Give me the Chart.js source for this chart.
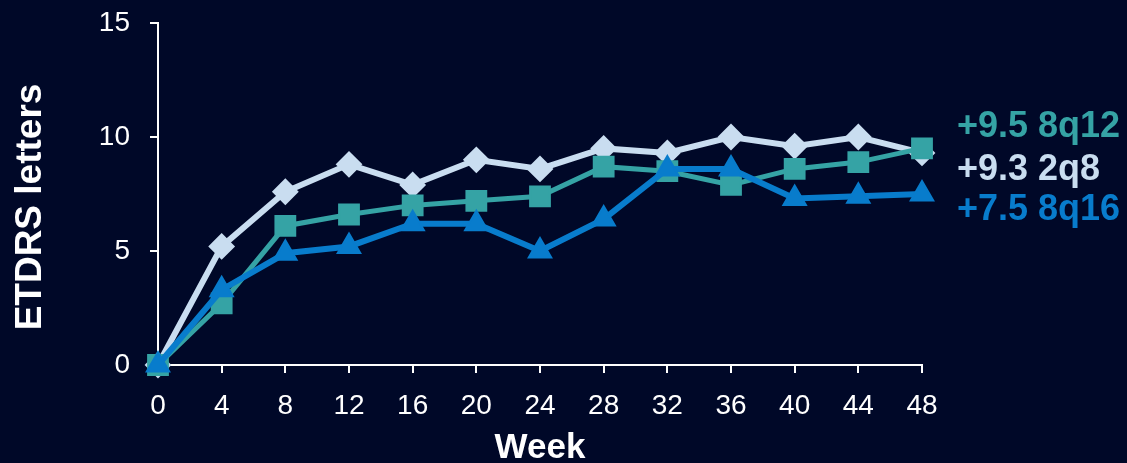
<!DOCTYPE html>
<html>
<head>
<meta charset="utf-8">
<script src="https://cdn.jsdelivr.net/npm/chart.js@4.4.1/dist/chart.umd.min.js"></script>
<style>
  html, body { margin: 0; padding: 0; background: #000828; }
  #wrap { width: 1127px; height: 463px; position: relative; }
</style>
</head>
<body>
<div id="wrap"><canvas id="c" width="1127" height="463"></canvas></div>
<script>
// Mean change in BCVA (ETDRS letters) by week
const weeks = [0, 4, 8, 12, 16, 20, 24, 28, 32, 36, 40, 44, 48];
const yTicks = [0, 5, 10, 15];

const dose2q8  = [0, 5.2, 7.6, 8.8, 7.9, 9.0, 8.6, 9.5, 9.3, 10.0, 9.6, 10.0, 9.3];
const dose8q12 = [0, 2.7, 6.1, 6.6, 7.0, 7.2, 7.4, 8.7, 8.5, 7.9, 8.6, 8.9, 9.5];
const dose8q16 = [0, 3.3, 4.9, 5.2, 6.2, 6.2, 5.0, 6.4, 8.6, 8.6, 7.3, 7.4, 7.5];

const seriesNames = ['8q12', '2q8', '8q16'];
const yTitle = 'ETDRS letters';

const C_LIGHT = '#c9ddf0';
const C_TEAL  = '#35a3a5';
const C_BLUE  = '#087ccc';
const FONT = "'Liberation Sans', Arial, sans-serif";

// End-of-line value labels next to the last point of each series, plus the y title
const annotations = {
  id: 'annotations',
  afterDatasetsDraw(chart) {
    const { ctx, chartArea } = chart;
    const yScale = chart.scales.y;
    const items = [
      { data: dose8q12, name: seriesNames[0], color: C_TEAL,  dy: -21 },
      { data: dose2q8,  name: seriesNames[1], color: C_LIGHT, dy: 17 },
      { data: dose8q16, name: seriesNames[2], color: C_BLUE,  dy: 16 }
    ];
    ctx.save();
    ctx.font = "bold 36px " + FONT;
    ctx.textAlign = 'left';
    ctx.textBaseline = 'middle';
    items.forEach(it => {
      const v = it.data[it.data.length - 1];
      const y = yScale.getPixelForValue(v) + it.dy;
      ctx.fillStyle = it.color;
      ctx.fillText('+' + v.toFixed(1) + ' ' + it.name, chartArea.right + 35, y);
    });

    // rotated y-axis title
    ctx.translate(31, (chartArea.top + chartArea.bottom) / 2 + 13);
    ctx.rotate(-Math.PI / 2);
    ctx.textAlign = 'center';
    ctx.font = "bold 37px " + FONT;
    ctx.fillStyle = '#ffffff';
    ctx.fillText(yTitle, 0, 0);
    ctx.restore();
  }
};

const ds = (label, data, color, style, radius, width, order) => ({
  label, data,
  borderColor: color, backgroundColor: color,
  pointBackgroundColor: color, pointBorderColor: color,
  borderWidth: width, pointBorderWidth: 2,
  pointStyle: style, pointRadius: radius, pointHoverRadius: radius,
  tension: 0, clip: false, order
});

new Chart(document.getElementById('c'), {
  type: 'line',
  data: {
    labels: weeks,
    datasets: [
      ds('2q8',  dose2q8,  C_LIGHT, 'rectRot', 12, 6, 3),
      ds('8q12', dose8q12, C_TEAL,  'rect',    14, 5, 2),
      ds('8q16', dose8q16, C_BLUE,  'triangle',13, 6, 1)
    ]
  },
  options: {
    responsive: false,
    animation: false,
    layout: { padding: { left: 0, top: 23, right: 205, bottom: 0 } },
    plugins: { legend: { display: false }, tooltip: { enabled: false } },
    scales: {
      x: {
        type: 'category',
        offset: false,
        afterFit(s) { s.height = 98; s.paddingLeft = 0; s.paddingRight = 0; },
        border: { color: '#ffffff', width: 2 },
        grid: { drawOnChartArea: false, drawTicks: true, tickLength: 8, color: '#ffffff', lineWidth: 2 },
        ticks: { color: '#ffffff', font: { family: FONT, size: 28 }, padding: 16, maxRotation: 0, autoSkip: false },
        title: { display: true, text: 'Week', color: '#ffffff', font: { family: FONT, size: 35, weight: 'bold', lineHeight: 0.85 }, padding: { top: 0, bottom: 0 } }
      },
      y: {
        min: 0, max: 15,
        afterFit(s) { s.width = 158; s.paddingTop = 0; s.paddingBottom = 0; },
        afterBuildTicks(s) { s.ticks = yTicks.map(v => ({ value: v })); },
        border: { color: '#ffffff', width: 2 },
        grid: { drawOnChartArea: false, drawTicks: true, tickLength: 8, color: '#ffffff', lineWidth: 2 },
        ticks: { color: '#ffffff', font: { family: FONT, size: 28 }, padding: 20 },
        title: { display: false }
      }
    }
  },
  plugins: [annotations]
});
</script>
</body>
</html>
